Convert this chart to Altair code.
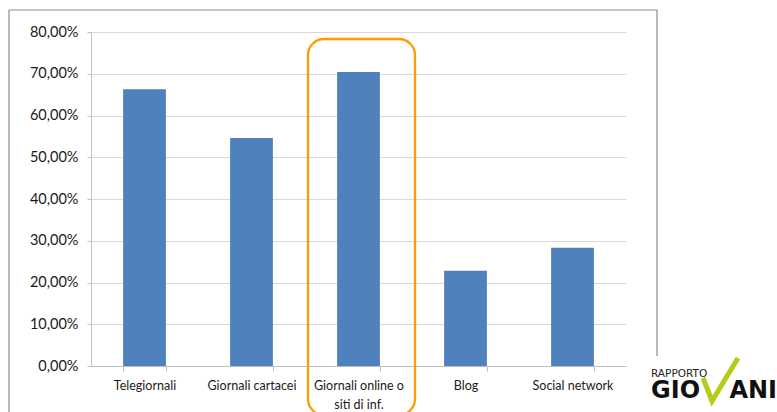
import altair as alt
import pandas as pd

# Survey shares by news source
categories = [
    "Telegiornali",
    "Giornali cartacei",
    "Giornali online o siti di inf.",
    "Blog",
    "Social network",
]
shares = [0.663, 0.546, 0.704, 0.228, 0.283]
y_ticks = [0.0, 0.1, 0.2, 0.3, 0.4, 0.5, 0.6, 0.7, 0.8]

df = pd.DataFrame({"fonte": categories, "quota": shares})
one = pd.DataFrame({"k": [0]})

W, H = 535, 334

x_enc = alt.X(
    "fonte:N",
    sort=categories,
    title=None,
    scale=alt.Scale(paddingInner=0.6, paddingOuter=0.3),
    axis=alt.Axis(
        labelAngle=0,
        labelFont="Lato",
        labelFontSize=12.5,
        labelColor="#1a1a1a",
        labelPadding=8,
        labelLimit=300,
        labelLineHeight=19,
        labelBaseline="top",
        labelExpr="datum.label == 'Giornali online o siti di inf.' ? ['Giornali online o', 'siti di inf.'] : datum.label",
        tickBand="extent",
        tickSize=5,
        tickColor="#bfbfbf",
        domainColor="#bfbfbf",
        grid=False,
    ),
)

y_enc = alt.Y(
    "quota:Q",
    title=None,
    scale=alt.Scale(domain=[0, 0.8], nice=False),
    axis=alt.Axis(
        values=y_ticks,
        labelExpr="replace(format(datum.value, '.2%'), '.', ',')",
        labelFont="Lato",
        labelFontSize=14.5,
        labelColor="#1a1a1a",
        labelPadding=9,
        tickSize=4,
        tickColor="#bfbfbf",
        domainColor="#bfbfbf",
        gridColor="#d9d9d9",
        gridWidth=1.2,
    ),
)

bars = alt.Chart(df).mark_bar(color="#4F81BD").encode(x=x_enc, y=y_enc)

# outer chart frame (top, left, right edges)
frame_top = alt.Chart(one).mark_rule(color="#8c8c8c", strokeWidth=1.2).encode(
    x=alt.value(-82), x2=alt.value(566), y=alt.value(-22), y2=alt.value(-22)
)
frame_left = alt.Chart(one).mark_rule(color="#8c8c8c", strokeWidth=1.2).encode(
    x=alt.value(-82), x2=alt.value(-82), y=alt.value(-22), y2=alt.value(390)
)
frame_right = alt.Chart(one).mark_rule(color="#8c8c8c", strokeWidth=1.2).encode(
    x=alt.value(566), x2=alt.value(566), y=alt.value(-22), y2=alt.value(324)
)

# highlight box around the online newspapers column
highlight = alt.Chart(one).mark_rect(
    cornerRadius=16, fillOpacity=0, stroke="#FF9A00", strokeWidth=2.3
).encode(x=alt.value(217), x2=alt.value(324), y=alt.value(7), y2=alt.value(383))

# "Rapporto Giovani" logo
logo_small = alt.Chart(one).mark_text(
    text="RAPPORTO", font="DejaVu Sans", fontSize=10.5, align="left",
    baseline="alphabetic", color="#222",
).encode(x=alt.value(560), y=alt.value(345))
logo_left = alt.Chart(one).mark_text(
    text="GIO", font="DejaVu Sans", fontWeight="bold", fontSize=24,
    align="left", baseline="alphabetic", color="#111",
).encode(x=alt.value(560), y=alt.value(366))
logo_right = alt.Chart(one).mark_text(
    text="ANI", font="DejaVu Sans", fontWeight="bold", fontSize=24,
    align="right", baseline="alphabetic", color="#111",
).encode(x=alt.value(686), y=alt.value(366))
check_df = pd.DataFrame({"px": [612, 621, 647], "py": [346, 369, 326], "o": [0, 1, 2]})
logo_check = alt.Chart(check_df).mark_line(
    color="#B5CC18", strokeWidth=5, strokeJoin="miter", strokeCap="butt"
).encode(
    x=alt.X("px:Q", scale=None),
    y=alt.Y("py:Q", scale=None),
    order="o:O",
)

chart = (
    alt.layer(
        bars, frame_top, frame_left, frame_right, highlight,
        logo_small, logo_left, logo_right, logo_check,
    )
    .properties(
        width=W,
        height=H,
        autosize=alt.AutoSizeParams(type="none"),
        padding={"left": 91, "top": 32, "right": 151, "bottom": 46},
        background="white",
    )
    .configure_view(stroke=None)
)

chart.save("out.html", embed_options={"renderer": "svg", "actions": False})
